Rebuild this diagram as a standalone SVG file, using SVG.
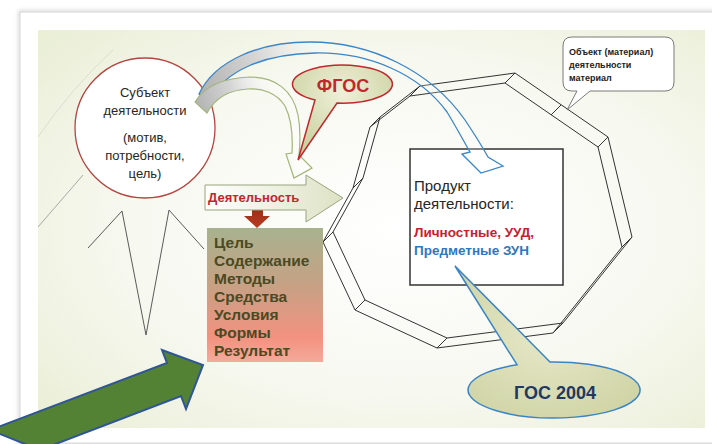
<svg xmlns="http://www.w3.org/2000/svg" width="712" height="444" viewBox="0 0 712 444">
  <defs>
    <radialGradient id="slideBg" cx="0.55" cy="0.5" r="0.75">
      <stop offset="0" stop-color="#ffffff"/>
      <stop offset="0.55" stop-color="#f7f8f0"/>
      <stop offset="1" stop-color="#e9eed4"/>
    </radialGradient>
    <linearGradient id="grayFadeG" gradientUnits="userSpaceOnUse" x1="198" y1="105" x2="270" y2="80">
      <stop offset="0" stop-color="#b4b4b4"/>
      <stop offset="0.5" stop-color="#d6d6d6"/>
      <stop offset="1" stop-color="#ffffff" stop-opacity="0.3"/>
    </linearGradient>
    <linearGradient id="grayFadeB" gradientUnits="userSpaceOnUse" x1="200" y1="95" x2="330" y2="45">
      <stop offset="0" stop-color="#b0b0b0"/>
      <stop offset="0.5" stop-color="#d8d8d8"/>
      <stop offset="1" stop-color="#ffffff" stop-opacity="0.2"/>
    </linearGradient>
    <linearGradient id="actFill" x1="0" y1="0" x2="1" y2="0">
      <stop offset="0" stop-color="#ffffff"/>
      <stop offset="1" stop-color="#dde2c4"/>
    </linearGradient>
    <linearGradient id="boxFill" x1="0" y1="0" x2="0" y2="1">
      <stop offset="0" stop-color="#a7b28e"/>
      <stop offset="0.45" stop-color="#c9a084"/>
      <stop offset="0.82" stop-color="#f39280"/>
      <stop offset="1" stop-color="#f3aa9c"/>
    </linearGradient>
    <linearGradient id="redArrow" x1="0" y1="0" x2="0" y2="1">
      <stop offset="0" stop-color="#9e3018"/>
      <stop offset="1" stop-color="#b93b22"/>
    </linearGradient>
    <radialGradient id="oliveFill" cx="0.5" cy="0.3" r="0.7">
      <stop offset="0" stop-color="#eef0d8"/>
      <stop offset="1" stop-color="#c9cf9c"/>
    </radialGradient>
    <radialGradient id="oliveFill2" cx="0.5" cy="0.45" r="0.7">
      <stop offset="0" stop-color="#e6e8c8"/>
      <stop offset="1" stop-color="#cdd2a2"/>
    </radialGradient>
    <filter id="shadow" x="-5%" y="-5%" width="110%" height="110%">
      <feGaussianBlur stdDeviation="2"/>
    </filter>
    <style>
      .txt { font-family: "Liberation Sans", Arial, sans-serif; }
      .circleTxt { font-size: 13px; fill: #262626; text-anchor: middle; }
      .ring { fill: none; stroke: #333333; stroke-width: 1; stroke-linejoin: miter; }
      .zig { fill: none; stroke: #5a5a5a; stroke-width: 1; }
      .boxTxt { font-size: 15.5px; font-weight: bold; fill: #4b4a22; }
      .prodTxt { font-size: 15px; fill: #262626; }
      .objTxt { font-size: 9px; font-weight: bold; fill: #222222; }
    </style>
  </defs>

  <!-- page and slide frame -->
  <rect x="0" y="0" width="712" height="444" fill="#ffffff"/>
  <rect x="20" y="12" width="702" height="431" fill="none" stroke="#d0d0d0" stroke-width="3" filter="url(#shadow)"/>
  <rect x="20" y="12" width="702" height="431" fill="#ffffff" stroke="#d6d6d6" stroke-width="1"/>
  <rect x="38" y="30" width="667" height="398" fill="url(#slideBg)"/>

  <!-- faint background lines -->
  <path d="M38,137 Q70,90 113,50" fill="none" stroke="#dcdfcf" stroke-width="1"/>
  <path d="M38,227 L83,175" fill="none" stroke="#a8a8a8" stroke-width="1"/>

  <!-- zigzag -->
  <polyline class="zig" points="88,248 122,211 146,335 169,210 204,249"/>

  <!-- 3D ring (object of activity) -->
  <g id="ring">
    <polygon class="ring" points="410,96 505,83 598,147 622,247 553,333 437,348 355,310 323,242 353,188 370,127"/>
    <polygon class="ring" points="420,86 515,73 608,137 632,237 563,323 447,338 365,300 333,232 363,178 380,117"/>
    <path class="ring" d="M410,96 L420,86 M505,83 L515,73 M598,147 L608,137 M622,247 L632,237 M553,333 L563,323 M437,348 L447,338 M355,310 L365,300 M323,242 L333,232 M353,188 L363,178 M370,127 L380,117 M551,115 L561,105"/>
  </g>

  <!-- product box -->
  <g id="product">
    <rect x="410" y="149" width="153" height="136" fill="#ffffff" stroke="#333333" stroke-width="1.5"/>
    <text class="txt prodTxt" x="414" y="191">Продукт</text>
    <text class="txt prodTxt" x="414" y="209">деятельности:</text>
    <text class="txt" x="414" y="237" font-size="13.5" font-weight="bold" fill="#c8202f">Личностные, УУД,</text>
    <text class="txt" x="414" y="255" font-size="13.5" font-weight="bold" fill="#2e78c0">Предметные ЗУН</text>
  </g>

  <!-- subject circle -->
  <g id="subject">
    <circle cx="145" cy="128" r="70" fill="#ffffff" stroke="#b5443f" stroke-width="1.3"/>
    <text class="txt circleTxt" x="145" y="97">Субъект</text>
    <text class="txt circleTxt" x="145" y="115">деятельности</text>
    <text class="txt circleTxt" x="145" y="142">(мотив,</text>
    <text class="txt circleTxt" x="145" y="160">потребности,</text>
    <text class="txt circleTxt" x="145" y="178">цель)</text>
  </g>

  <!-- connectors -->
  <g id="connectors">
    <path d="M199,94 C215,60 260,42 310,42 C370,42 430,70 465,120 C475,135 483,148 488,157 L503,166 L481,173 L462,154 L470,152 C462,138 455,125 447,112 C420,75 370,52 315,53 C265,54 225,70 209,101 Z" fill="url(#grayFadeB)" stroke="#3a86c8" stroke-width="1.3" stroke-linejoin="miter"/>
    <path d="M195,102 C205,85 225,78 250,77 C275,77 293,90 298,115 C301,130 300,145 299,155 L312,168 L294,178 L286,154 L292,153 C293,135 291,118 285,106 C277,93 262,88 248,89 C230,90 215,98 207,113 Z" fill="url(#grayFadeG)" stroke="#a3b57a" stroke-width="1.2" stroke-linejoin="miter"/>
    <polygon points="252,210 263,210 263,216 270,216 257,228 244,216 252,216" fill="url(#redArrow)"/>
  </g>

  <!-- FGOS callout -->
  <g id="fgos">
    <path d="M315,100 L298,160 L337,103 A50,19 0 1 0 315,100 Z" fill="url(#oliveFill)" stroke="#c0282d" stroke-width="1.5" stroke-linejoin="miter"/>
    <text class="txt" x="343" y="92" font-size="18" font-weight="bold" fill="#c0282d" text-anchor="middle">ФГОС</text>
  </g>

  <!-- activity arrow -->
  <g id="activity">
    <polygon points="205,185 306,185 306,175 343,198 306,222 306,210 205,210" fill="url(#actFill)" stroke="#98a47e" stroke-width="1"/>
    <text class="txt" x="208" y="202" font-size="13" font-weight="bold" fill="#c0272d">Деятельность</text>
  </g>

  <!-- elements box -->
  <g id="elements">
    <rect x="207" y="228" width="116" height="134" fill="url(#boxFill)"/>
    <text class="txt boxTxt" x="214" y="248">Цель</text>
    <text class="txt boxTxt" x="214" y="266">Содержание</text>
    <text class="txt boxTxt" x="214" y="284">Методы</text>
    <text class="txt boxTxt" x="214" y="302">Средства</text>
    <text class="txt boxTxt" x="214" y="320">Условия</text>
    <text class="txt boxTxt" x="214" y="338">Формы</text>
    <text class="txt boxTxt" x="214" y="356">Результат</text>
  </g>

  <!-- object callout -->
  <g id="object">
    <path d="M572,37 H665 Q674,37 674,46 V82 Q674,91 665,91 H590 L567,110 L577,91 H572 Q563,91 563,82 V46 Q563,37 572,37 Z" fill="#ffffff" stroke="#7a7a7a" stroke-width="1"/>
    <text class="txt objTxt" x="569" y="55">Объект (материал)</text>
    <text class="txt objTxt" x="569" y="68">деятельности</text>
    <text class="txt objTxt" x="569" y="81">материал</text>
  </g>

  <!-- GOS 2004 callout -->
  <g id="gos2004">
    <path d="M517,364.7 L455,266 L550,362 A86,28 0 1 1 517,364.7 Z" fill="url(#oliveFill2)" stroke="#3b83c4" stroke-width="1.5" stroke-linejoin="miter"/>
    <text class="txt" x="555" y="399" font-size="18" font-weight="bold" fill="#1f3864" text-anchor="middle">ГОС 2004</text>
  </g>

  <!-- big green pointer arrow -->
  <g id="pointer">
    <polygon points="-10,430 167,363 162,350 203,365 186,409 181,396 40,450" fill="#548235" stroke="#2f5597" stroke-width="2" stroke-linejoin="miter"/>
  </g>
</svg>
